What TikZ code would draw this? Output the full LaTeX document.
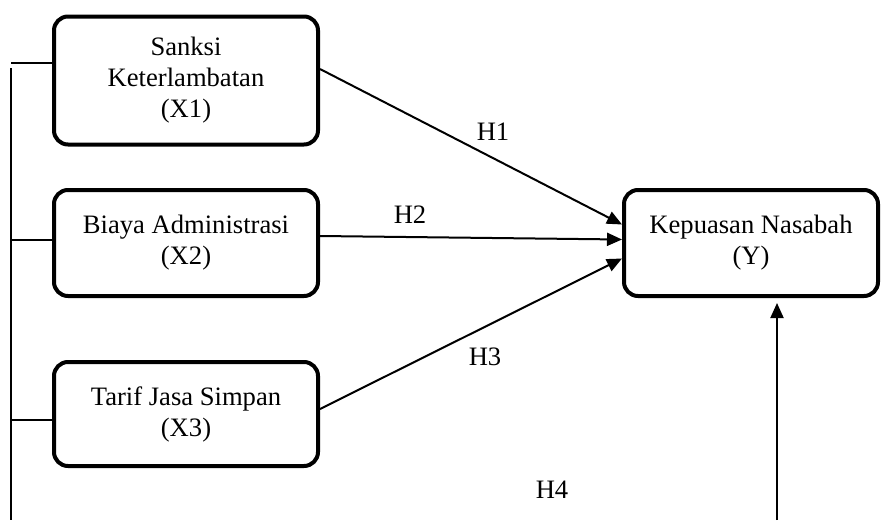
\documentclass[tikz,border=0pt]{standalone}
\usepackage{fontspec}
\setmainfont{Liberation Serif}
\usetikzlibrary{arrows.meta,positioning,shapes}

\begin{document}
\begin{tikzpicture}[->,>={Triangle[length=7.5pt,width=6.5pt]},x=0.5pt,y=-0.5pt,line width=1pt,font=\fontsize{13.3}{15.5}\selectfont]
\tikzstyle{var}=[shape=rectangle,draw,line width=2pt,rounded corners=7pt,text=black,align=center,minimum width=132pt,minimum height=53pt]
\useasboundingbox (0,0) rectangle (883,520);

\node[var]		(X1) at (186,80.5) [minimum height=64pt] {Sanksi\\Keterlambatan\\(X1)};
\node[var]		(X2) [below of=X1, node distance=81.25pt] {Biaya Administrasi\\(X2)};
\node[var]		(X3) [below of=X2, node distance=85.5pt,minimum height=52pt] {Tarif Jasa Simpan\\(X3)};
\node[var]		(Y) [right of=X2, node distance=282.5pt,minimum width=127pt] {Kepuasan Nasabah\\(Y)};

\node (h1) at (493,132) {H1};
\node (h2) at (410,215) {H2};
\node (h3) at (485,357) {H3};
\node (h4) at (552,490) {H4};

\coordinate (busTop) at (11,68);
\coordinate (busBot) at (11,520);
\coordinate (h4Bot) at (777,520);

\path
([yshift=5.75pt]X1.east) edge ([yshift=9.25pt]Y.west)
([yshift=3.5pt]X2.east) edge ([yshift=1.75pt]Y.west)
([yshift=2.5pt]X3.east) edge ([yshift=-7.75pt]Y.west)
(h4Bot) edge[shorten >=2.5pt] (Y.south -| h4Bot)
;

\draw[-] (busTop) -- (busBot);
\draw[-] ([yshift=8.75pt]X1.west) -- ([yshift=8.75pt]X1.west -| busTop);
\draw[-] ([yshift=1.5pt]X2.west) -- ([yshift=1.5pt]X2.west -| busTop);
\draw[-] ([yshift=-3pt]X3.west) -- ([yshift=-3pt]X3.west -| busTop);
\end{tikzpicture}
\end{document}
